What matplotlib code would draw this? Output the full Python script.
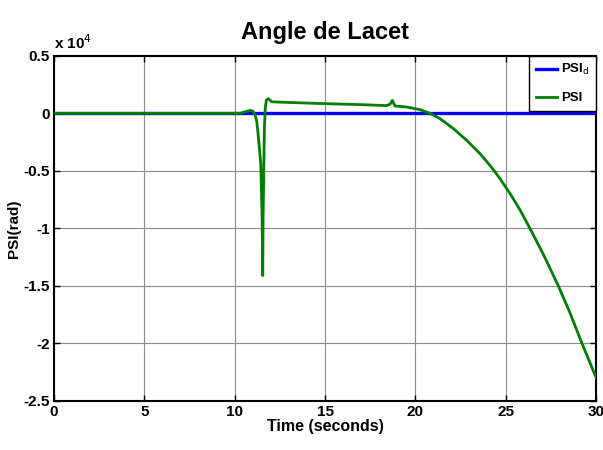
import matplotlib.pyplot as plt
from matplotlib.ticker import FuncFormatter

# donnees (psi en rad)
t_ref = [0, 30]
psi_ref = [0, 0]

t = [0, 10.3, 10.6, 10.85, 11.0, 11.13, 11.22, 11.3, 11.44, 11.51, 11.55, 11.57,
     11.6, 11.64, 11.69, 11.75, 11.86, 12.05, 12.7, 15.0, 17.1, 18.4, 18.6, 18.72,
     18.87, 19.5, 20.25, 20.8, 21.36, 22.1, 22.84, 23.57, 24.2, 24.7, 25.2, 25.79,
     26.35, 27.08, 27.91, 28.56, 29.2, 30]
psi = [0, 0, 150, 250, 200, -150, -700, -1900, -4350, -8700, -14100, -9000,
       -5800, -1300, 450, 1150, 1280, 1000, 960, 840, 750, 670, 800, 1130,
       640, 550, 320, 0, -460, -1330, -2350, -3500, -4670, -5720, -6890, -8400,
       -10040, -12260, -15000, -17370, -19930, -22970]

narrow = ['Liberation Sans Narrow', 'Liberation Sans', 'DejaVu Sans']

fig = plt.figure(figsize=(6.03, 4.5), dpi=100)
ax = fig.add_axes([0.0896, 0.109, 0.899, 0.767])

ax.plot(t_ref, psi_ref, color='#0000ff', lw=2.4, label=r'PSI$_\mathrm{d}$', zorder=3)
ax.plot(t, psi, color='#007f00', lw=2.0, label='PSI', zorder=4)

ax.set_xlim(0, 30)
ax.set_ylim(-25000, 5000)
ax.set_xticks([0, 5, 10, 15, 20, 25, 30])
ax.set_yticks([-25000, -20000, -15000, -10000, -5000, 0, 5000])
ax.yaxis.set_major_formatter(FuncFormatter(lambda v, p: '%g' % (v / 1e4)))
ax.grid(True, color='0.55', lw=0.8)
ax.tick_params(direction='in', top=True, right=True, length=4, width=1, pad=3)
for lab in ax.get_xticklabels() + ax.get_yticklabels():
    lab.set_family(narrow)
    lab.set_fontweight('bold')
    lab.set_fontsize(11)
for s in ax.spines.values():
    s.set_linewidth(1.5)

ax.text(0.0, 1.01, r'x 10$^{4}$', transform=ax.transAxes, family=narrow,
        fontweight='bold', fontsize=11, ha='left', va='bottom')

ax.set_title('Angle de Lacet', family=narrow, fontweight='bold', fontsize=17, pad=12)
ax.set_xlabel('Time (seconds)', family=narrow, fontweight='bold', fontsize=11.5, labelpad=0)
ax.set_ylabel('PSI(rad)', family=['Liberation Sans', 'DejaVu Sans'], fontweight='bold',
              fontsize=11, labelpad=2)

leg = ax.legend(loc='upper right', borderaxespad=0, fancybox=False, framealpha=1,
                edgecolor='black', prop={'family': narrow, 'weight': 'bold', 'size': 9.5},
                handlelength=1.6, handletextpad=0.3, borderpad=0.5, labelspacing=1.1)
leg.get_frame().set_linewidth(1.0)
leg.set_zorder(10)

fig.savefig('out.png', dpi=100)
